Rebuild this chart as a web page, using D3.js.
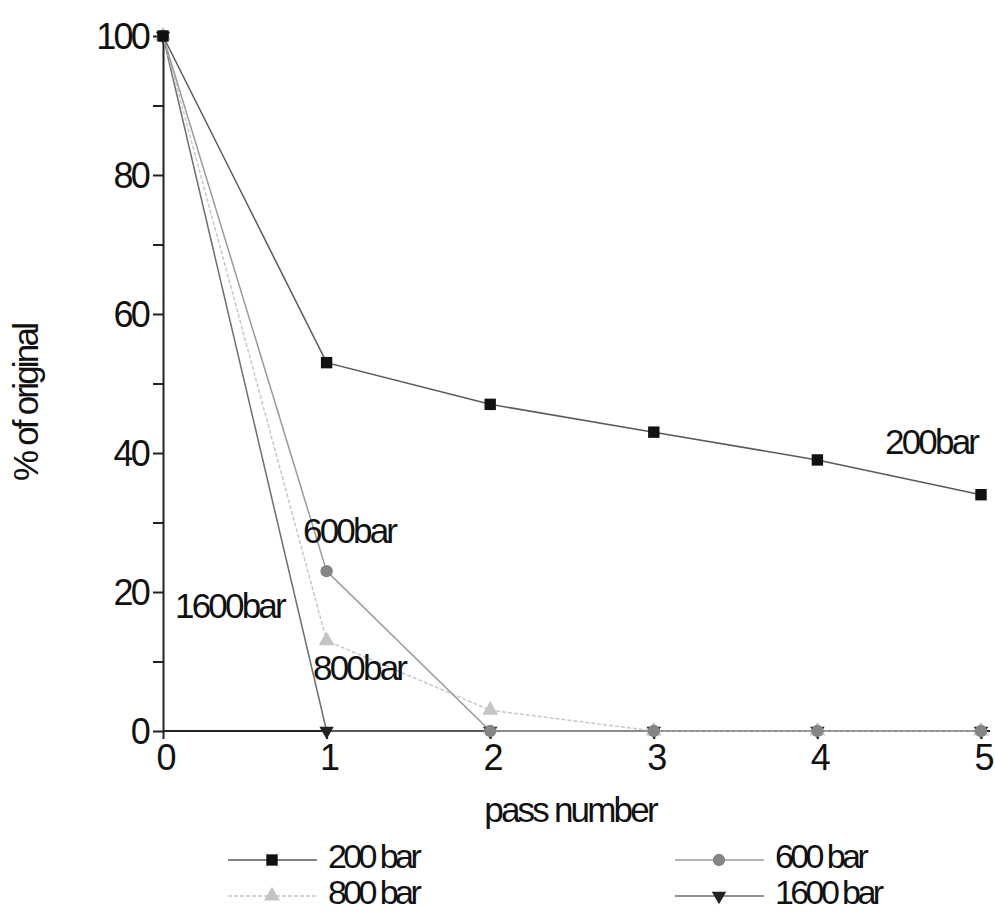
<!DOCTYPE html>
<meta charset='utf-8'>
<style>
body { margin: 0; background: #fff; }
text { font-family: 'Liberation Sans', Arial, sans-serif; fill: #111; letter-spacing: -2.8px; }
.axis path, .axis line { stroke: #222; stroke-width: 2px; }
.legend text { letter-spacing: -3.6px; word-spacing: 0px; }
</style>
<svg width='995' height='913'></svg>
<script src='https://cdn.jsdelivr.net/npm/d3@7/dist/d3.min.js'></script>
<script>
  var passes = [0, 1, 2, 3, 4, 5];
  var bar200 = [100, 53, 47, 43, 39, 34];
  var bar600 = [100, 23, 0, 0, 0, 0];
  var bar800 = [100, 13, 3, 0, 0, 0];
  var bar1600 = [100, 0, 0, 0, 0, 0];
  var yTicks = [0, 20, 40, 60, 80, 100];

  var series = [
    { name: '200 bar', tag: '200bar', values: bar200, line: '#5a5a5a', dash: null, fill: '#111', sym: d3.symbolSquare, size: 130, rot: 0, lx: 885, ly: 454 },
    { name: '600 bar', tag: '600bar', values: bar600, line: '#9a9a9a', dash: null, fill: '#858585', sym: d3.symbolCircle, size: 120, rot: 0, lx: 303, ly: 543 },
    { name: '800 bar', tag: '800bar', values: bar800, line: '#c8c8c8', dash: '4,2', fill: '#c4c4c4', sym: d3.symbolTriangle, size: 110, rot: 0, lx: 313, ly: 680 },
    { name: '1600 bar', tag: '1600bar', values: bar1600, line: '#6e6e6e', dash: null, fill: '#222', sym: d3.symbolTriangle, size: 90, rot: 180, lx: 175, ly: 618 }
  ];

  var svg = d3.select('svg');
  var x = d3.scaleLinear().domain([0, 5]).range([163, 981]);
  var y = d3.scaleLinear().domain([0, 100]).range([731, 36]);

  // y axis, minor ticks every 10
  svg.append('g').attr('class', 'axis')
    .attr('transform', 'translate(163,0)')
    .call(d3.axisLeft(y).tickValues(d3.range(0, 101, 10)).tickSize(10).tickSizeOuter(0).tickFormat(''));
  svg.append('g').selectAll('text').data(yTicks).enter().append('text')
    .attr('x', 148).attr('y', d => y(d) + 13)
    .attr('text-anchor', 'end').style('font-size', '36px')
    .text(d => d);

  // x axis
  var xa = svg.append('g').attr('class', 'axis')
    .attr('transform', 'translate(0,731)')
    .call(d3.axisBottom(x).tickValues(passes).tickSize(8).tickSizeOuter(0).tickFormat(''));
  xa.select('.domain').attr('d', 'M163,0H990');
  svg.append('g').selectAll('text').data(passes).enter().append('text')
    .attr('x', d => x(d) + 2).attr('y', 770)
    .attr('text-anchor', 'middle').style('font-size', '36px')
    .text(d => d);

  svg.append('text').attr('x', 570).attr('y', 822).attr('text-anchor', 'middle')
    .style('font-size', '35px').text('pass number');
  svg.append('text').attr('transform', 'translate(38,403) rotate(-90)').attr('text-anchor', 'middle')
    .style('font-size', '35px').text('% of original');

  var line = d3.line().x((d, i) => x(passes[i])).y(d => y(d));

  series.slice().reverse().forEach(function (s) {
    svg.append('path').datum(s.values)
      .attr('fill', 'none').attr('stroke', s.line).attr('stroke-width', 1.5)
      .attr('stroke-dasharray', s.dash)
      .attr('d', line);
  });
  series.slice().reverse().forEach(function (s) {
    svg.append('g').selectAll('path').data(s.values).enter().append('path')
      .attr('d', d3.symbol().type(s.sym).size(s.size))
      .attr('transform', (d, i) => 'translate(' + x(passes[i]) + ',' + y(d) + ') rotate(' + s.rot + ')')
      .attr('fill', s.fill);
    svg.append('text').attr('x', s.lx).attr('y', s.ly).style('font-size', '35px').text(s.tag);
  });

  // legend
  var legendPos = [[228, 860], [675, 860], [228, 896], [675, 896]];
  var legend = svg.append('g').attr('class', 'legend');
  series.forEach(function (s, i) {
    var p = legendPos[i];
    var g = legend.append('g').attr('transform', 'translate(' + p[0] + ',' + p[1] + ')');
    g.append('line').attr('x1', 0).attr('x2', 89).attr('stroke', s.line).attr('stroke-width', 1.5)
      .attr('stroke-dasharray', s.dash);
    g.append('path').attr('d', d3.symbol().type(s.sym).size(s.size))
      .attr('transform', 'translate(44,0) rotate(' + s.rot + ')').attr('fill', s.fill);
    g.append('text').attr('x', 100).attr('y', 8).style('font-size', '34px').text(s.name);
  });
</script>
